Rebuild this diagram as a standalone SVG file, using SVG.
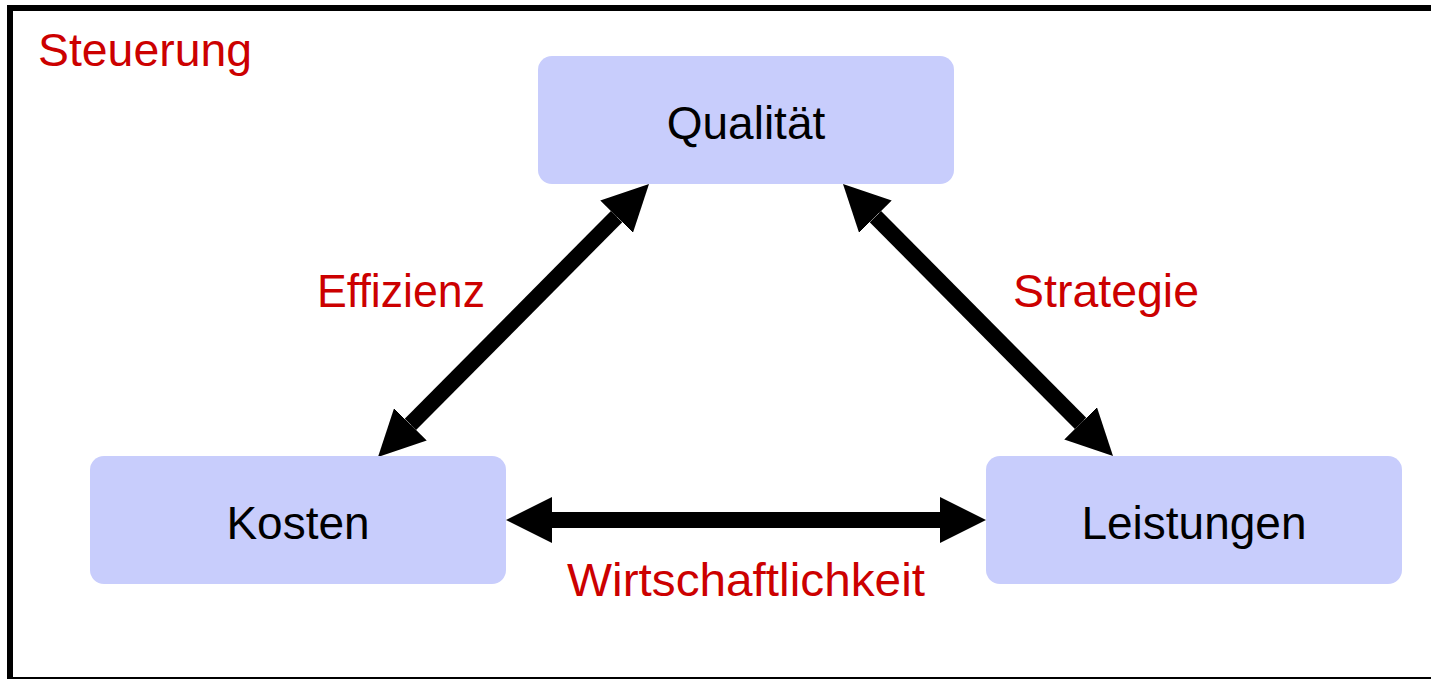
<svg xmlns="http://www.w3.org/2000/svg" width="1431" height="679" viewBox="0 0 1431 679">
  <style>
    .box { fill: #c8cdfc; }
    .name { font-family: "Liberation Sans", Arial, sans-serif; font-size: 46px; fill: #000; text-anchor: middle; }
    .tag { font-family: "Liberation Sans", Arial, sans-serif; font-size: 46px; fill: #cc0000; text-anchor: middle; }
    .link { stroke: #000; stroke-width: 16; fill: none; marker-start: url(#head); marker-end: url(#head); }
  </style>
  <defs>
    <marker id="head" viewBox="0 -23 46 46" refX="0" refY="0" markerWidth="46" markerHeight="46" markerUnits="userSpaceOnUse" orient="auto-start-reverse">
      <path d="M0,-23 L46,0 L0,23 Z" fill="#000"/>
    </marker>
  </defs>

  <rect x="0" y="0" width="1431" height="679" fill="#fff"/>
  <!-- outer frame -->
  <rect x="10" y="8" width="1430" height="672" fill="none" stroke="#000" stroke-width="6"/>

  <text class="tag" x="38" y="66" style="text-anchor:start" textLength="214" lengthAdjust="spacingAndGlyphs">Steuerung</text>

  <g id="connectors">
    <line class="link" x1="410.4" y1="424.4" x2="616.6" y2="216.6"/>
    <line class="link" x1="875.4" y1="216.6" x2="1080.6" y2="423.4"/>
    <line class="link" x1="552" y1="520" x2="940" y2="520"/>
  </g>

  <g id="qualitaet">
    <rect class="box" x="538" y="56" width="416" height="128" rx="14"/>
    <text class="name" x="746" y="139">Qualität</text>
  </g>
  <g id="kosten">
    <rect class="box" x="90" y="456" width="416" height="128" rx="14"/>
    <text class="name" x="298" y="539">Kosten</text>
  </g>
  <g id="leistungen">
    <rect class="box" x="986" y="456" width="416" height="128" rx="14"/>
    <text class="name" x="1194" y="539">Leistungen</text>
  </g>

  <g id="labels">
    <text class="tag" x="401" y="307" textLength="168" lengthAdjust="spacingAndGlyphs">Effizienz</text>
    <text class="tag" x="1106" y="307" textLength="186" lengthAdjust="spacingAndGlyphs">Strategie</text>
    <text class="tag" x="746" y="596" textLength="358" lengthAdjust="spacingAndGlyphs">Wirtschaftlichkeit</text>
  </g>
</svg>
